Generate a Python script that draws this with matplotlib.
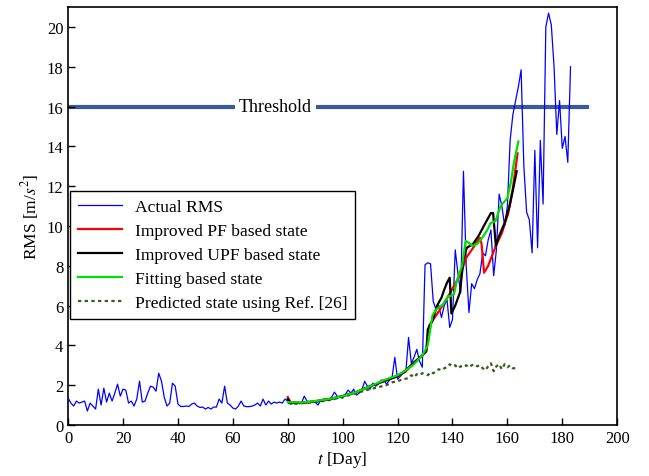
import numpy as np
import matplotlib
matplotlib.use('Agg')
import matplotlib.pyplot as plt

plt.rcParams['font.family'] = ['Liberation Serif', 'DejaVu Serif']
plt.rcParams['mathtext.fontset'] = 'stix'

# measured RMS, one value per day (0..183)
rms_actual = [
    1.35, 1.1, 0.95, 1.2, 1.1, 1.15, 1.2, 0.7, 1.1, 0.95,
    0.8, 1.8, 1.0, 1.85, 1.15, 1.6, 1.2, 1.6, 2.05, 1.45,
    1.8, 1.75, 1.1, 1.2, 0.95, 1.3, 2.2, 1.15, 1.2, 1.6,
    1.95, 1.9, 1.7, 2.6, 2.2, 1.4, 0.95, 1.1, 2.1, 1.95,
    1.05, 0.93, 0.93, 0.95, 0.93, 1.05, 1.1, 0.95, 0.88, 0.9,
    0.8, 0.88, 0.8, 0.9, 0.9, 1.3, 1.1, 1.95, 1.1, 1.0,
    0.85, 0.8, 0.95, 1.2, 0.95, 0.92, 0.92, 0.95, 1.0, 1.1,
    0.95, 1.3, 1.0, 1.2, 1.05, 1.15, 1.1, 1.15, 1.1, 1.3,
    1.2, 1.05, 1.1, 1.05, 1.1, 1.1, 1.45, 1.2, 1.15, 1.2,
    1.15, 1.0, 1.25, 1.3, 1.3, 1.3, 1.4, 1.65, 1.45, 1.4,
    1.35, 1.55, 1.75, 1.6, 1.8, 1.5, 1.6, 1.75, 2.2, 1.95,
    1.8, 2.1, 1.95, 2.05, 2.25, 2.25, 2.05, 2.25, 2.4, 3.4,
    2.3, 2.45, 2.6, 2.65, 4.4, 3.1, 3.4, 3.8, 3.2, 2.9,
    8.05, 8.15, 8.1, 6.2, 5.8, 6.0, 5.4, 6.0, 6.3, 4.9,
    5.3, 8.8, 7.6, 6.65, 12.75, 8.0, 5.65, 7.1, 6.85, 7.3,
    7.6, 8.65, 8.5, 9.3, 9.8, 7.5, 8.8, 11.6, 11.0, 10.0,
    11.0, 14.3, 15.6, 16.3, 17.0, 17.85, 13.0, 10.7, 10.3, 8.65,
    13.8, 8.9, 14.3, 11.1, 20.0, 20.7, 20.1, 18.0, 14.6, 16.3,
    13.9, 14.5, 13.2, 18.0,
]
days_actual = np.arange(len(rms_actual))

# improved PF
pf_days = [80, 81, 85, 90, 95, 100, 105, 110, 115, 120, 123, 126, 129, 130.5,
           131.5, 133, 135, 137, 139, 141, 143, 145, 147.5, 150, 150.6, 151.5,
           153, 155.8, 158, 160.3, 162, 163.7]
pf_vals = [1.4, 1.15, 1.12, 1.2, 1.3, 1.45, 1.65, 1.95, 2.2, 2.45, 2.7, 3.1, 3.5, 3.8,
           5.0, 5.3, 5.7, 6.15, 6.6, 7.1, 7.6, 8.4, 8.9, 9.4, 9.1, 7.65,
           8.0, 9.0, 9.65, 10.65, 11.9, 13.65]

# improved UPF
upf_days = [80, 81, 85, 90, 95, 100, 105, 110, 115, 120, 123, 126, 129, 130.5,
            131, 132.6, 134.4, 136, 137, 138, 139, 139.6, 141, 142.7, 144, 145.2,
            147.5, 149.5, 152, 154, 154.8, 155.8, 157, 159, 160.8, 162, 163.4]
upf_vals = [1.3, 1.1, 1.1, 1.18, 1.28, 1.45, 1.65, 1.95, 2.2, 2.45, 2.75, 3.15, 3.5, 3.7,
            4.8, 5.2, 6.0, 6.4, 6.8, 7.15, 7.4, 5.6, 6.0, 6.65, 8.3, 8.9,
            9.1, 9.5, 10.15, 10.65, 10.65, 9.0, 9.5, 10.15, 11.0, 11.8, 12.75]

# fitting based
fit_days = [80, 85, 90, 95, 100, 105, 110, 115, 120, 123, 126, 129, 131, 132.7,
            134, 136.5, 138.4, 139.4, 140.5, 141.7, 143.5, 144.8, 146, 147.2, 149,
            150.8, 152.7, 153.9, 155.7, 157.5, 160, 161.2, 162.4, 164]
fit_vals = [1.15, 1.12, 1.2, 1.3, 1.45, 1.65, 1.95, 2.25, 2.5, 2.75, 3.05, 3.5, 4.0, 5.5,
            5.8, 6.05, 6.45, 6.5, 6.55, 7.3, 8.0, 9.25, 9.15, 9.0, 9.1,
            9.4, 9.8, 10.15, 10.25, 11.0, 11.4, 12.15, 13.2, 14.25]

# Ref. [26]
ref_days = [80, 85, 90, 95, 100, 105, 110, 113, 116, 118, 120, 122, 124, 125, 126,
            127, 128, 129, 130, 131, 132, 133, 134, 135, 136, 137, 138, 139, 140,
            141, 142, 143, 144, 145, 146, 147, 148, 149, 150, 151, 152, 153, 154,
            155, 156, 157, 158, 159, 160, 161, 162, 163]
ref_vals = [1.1, 1.1, 1.15, 1.25, 1.4, 1.6, 1.8, 1.9, 2.0, 2.14, 2.2, 2.3, 2.35, 2.5, 2.4,
            2.55, 2.5, 2.6, 2.55, 2.5, 2.65, 2.6, 2.7, 2.8, 2.75, 2.85, 2.9, 3.05, 2.95,
            3.0, 2.85, 2.95, 2.9, 3.0, 2.9, 3.0, 3.05, 2.95, 3.0, 2.85, 2.75, 2.95, 3.1,
            2.7, 2.95, 3.05, 2.8, 3.05, 2.9, 3.0, 2.85, 2.85]

threshold = 16
threshold_span = [0, 189]

fig = plt.figure(figsize=(6.49, 4.77), dpi=100)
ax = fig.add_axes([0.105, 0.107, 0.846, 0.876])

ax.plot(threshold_span, [threshold, threshold], color='#3b5a9a', lw=3, zorder=1)
ax.text(75.5, threshold, 'Threshold', ha='center', va='center', fontsize=13,
        bbox=dict(boxstyle='square,pad=0.2', fc='white', ec='none'), zorder=2)

ax.plot(days_actual, rms_actual, color='blue', lw=0.9, label='Actual RMS', zorder=3)
ax.plot(pf_days, pf_vals, color='red', lw=1.6, label='Improved PF based state', zorder=4)
ax.plot(upf_days, upf_vals, color='black', lw=1.6, label='Improved UPF based state', zorder=5)
ax.plot(fit_days, fit_vals, color='#00e000', lw=1.6, label='Fitting based state', zorder=6)
ax.plot(ref_days, ref_vals, color='#35601a', lw=1.6, ls=(0, (1.5, 1.5)),
        label='Predicted state using Ref. [26]', zorder=4)

ax.set_xlim(0, 200)
ax.set_ylim(0, 21)
ax.set_xticks(np.arange(0, 201, 20))
ax.set_yticks(np.arange(0, 21, 2))
ax.tick_params(direction='in', length=5, width=1, labelsize=12, top=False, right=False)
for s in ax.spines.values():
    s.set_linewidth(1.2)

ax.set_xlabel('$t$ [Day]', fontsize=12.5, labelpad=2)
ax.set_ylabel('RMS [m/$s^2$]', fontsize=12.5, labelpad=4)

leg = ax.legend(loc='upper left', bbox_to_anchor=(0.004, 0.561), fontsize=12.6,
                frameon=True, fancybox=False, edgecolor='black', framealpha=1,
                handlelength=2.5, labelspacing=0.45, borderpad=0.45, handletextpad=0.75,
                borderaxespad=0)
leg.get_frame().set_linewidth(1.0)

fig.savefig('out.png', dpi=100)
